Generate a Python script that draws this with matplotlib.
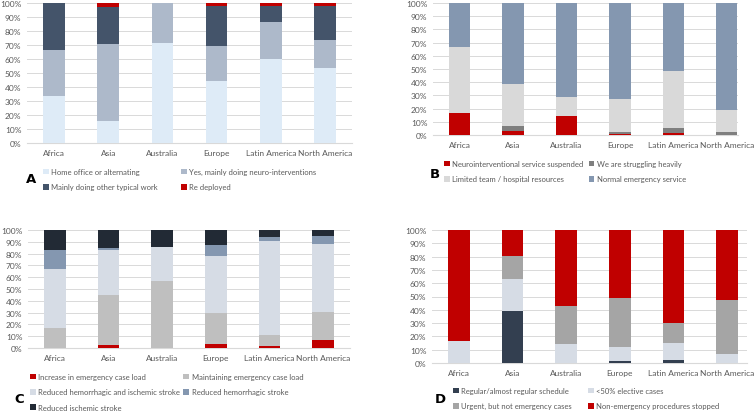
import matplotlib
matplotlib.use('Agg')
import matplotlib.pyplot as plt
from matplotlib.patches import Patch
from matplotlib.ticker import PercentFormatter
import numpy as np

plt.rcParams['font.family'] = ['Lato', 'DejaVu Sans']

regions = ['Africa', 'Asia', 'Australia', 'Europe', 'Latin America', 'North America']

# Panel A - work situation of neurointerventionalists (%)
a_labels = ['Home office or alternating', 'Yes, mainly doing neuro-interventions',
            'Mainly doing other typical work', 'Re deployed']
a_home = [33.3, 15.6, 71.4, 44.4, 60.0, 53.8]
a_neuro = [33.3, 55.0, 28.6, 24.6, 26.7, 20.0]
a_other = [33.4, 26.7, 0.0, 28.6, 11.3, 24.0]
a_redeployed = [0.0, 2.7, 0.0, 2.4, 2.0, 2.2]
a_colors = ['#DEEBF7', '#ADB9CA', '#44546A', '#C00000']

# Panel B - emergency service (%)
b_labels = ['Neurointerventional service suspended', 'We are struggling heavily',
            'Limited team / hospital resources', 'Normal emergency service']
b_suspended = [16.7, 3.3, 14.3, 0.8, 1.7, 0.0]
b_struggling = [0.0, 3.5, 0.0, 1.2, 3.8, 2.0]
b_limited = [50.0, 31.6, 14.3, 25.4, 43.2, 17.0]
b_normal = [33.3, 61.6, 71.4, 72.6, 51.3, 81.0]
b_colors = ['#C00000', '#7F7F7F', '#D9D9D9', '#8497B0']

# Panel C - emergency case load (%)
c_labels = ['Increase in emergency case load', 'Maintaining emergency case load',
            'Reduced hemorrhagic and ischemic stroke', 'Reduced hemorrhagic stroke',
            'Reduced ischemic stroke']
c_increase = [0.0, 2.3, 0.0, 3.0, 2.0, 6.8]
c_maintain = [16.7, 42.7, 57.1, 26.7, 9.0, 23.5]
c_both = [50.0, 37.7, 28.6, 48.2, 79.4, 58.1]
c_hem = [16.6, 2.3, 0.0, 9.1, 3.6, 6.6]
c_isch = [16.7, 15.0, 14.3, 13.0, 6.0, 5.0]
c_colors = ['#C00000', '#BFBFBF', '#D6DCE5', '#8497B0', '#222A35']

# Panel D - elective procedures (%)
d_labels = ['Regular/almost regular schedule', '<50% elective cases',
            'Urgent, but not emergency cases', 'Non-emergency procedures stopped']
d_regular = [0.0, 38.9, 0.0, 1.5, 2.0, 0.0]
d_less50 = [16.7, 24.4, 14.3, 10.5, 13.0, 7.0]
d_urgent = [0.0, 17.1, 28.6, 37.0, 15.0, 40.0]
d_stopped = [83.3, 19.6, 57.1, 51.0, 70.0, 53.0]
d_colors = ['#333F50', '#D6DCE5', '#A5A5A5', '#C00000']

W, H = 754, 414
fig = plt.figure(figsize=(W / 100, H / 100), dpi=100)


def px_axes(x0, y0, x1, y1):
    return fig.add_axes([x0 / W, 1 - y1 / H, (x1 - x0) / W, (y1 - y0) / H])


def stacked(ax, series, colors, labels, xmax=5.5):
    x = np.arange(len(regions))
    bottom = np.zeros(len(regions))
    for vals, col, lab in zip(series, colors, labels):
        ax.bar(x, vals, 0.4, bottom=bottom, color=col, label=lab, zorder=3)
        bottom += np.array(vals)
    ax.set_xlim(-0.5, xmax)
    ax.set_ylim(0, 100)
    ax.set_yticks(np.arange(0, 101, 10))
    ax.yaxis.set_major_formatter(PercentFormatter(decimals=0))
    ax.set_xticks(x)
    ax.set_xticklabels(regions)
    ax.grid(axis='y', color='#D9D9D9', linewidth=0.7, zorder=0)
    for s in ['top', 'right', 'left']:
        ax.spines[s].set_visible(False)
    ax.spines['bottom'].set_color('#D9D9D9')
    ax.tick_params(length=0, labelsize=6, colors='#595959', pad=4)


def legend(ax, order, labels, colors, x, y, spacing):
    handles = [Patch(facecolor=colors[i], label=labels[i]) for i in order]
    ax.legend(handles=handles, ncol=2, loc='upper left', frameon=False,
              bbox_to_anchor=(x / W, 1 - y / H), bbox_transform=fig.transFigure,
              fontsize=5.5, labelcolor='#595959', handlelength=0.75, handleheight=0.75,
              handletextpad=0.35, columnspacing=spacing, labelspacing=1.1,
              borderpad=0, borderaxespad=0)


def letter(x, y, s):
    fig.text(x / W, 1 - y / H, s, fontsize=9.5, fontweight='heavy',
             family=['DejaVu Sans'], va='center', ha='left')


axA = px_axes(27, 4, 352, 144)
stacked(axA, [a_home, a_neuro, a_other, a_redeployed], a_colors, a_labels)
legend(axA, [0, 2, 1, 3], a_labels, a_colors, 43, 169, 3.0)
letter(26, 180, 'A')

axB = px_axes(433, 4, 738, 136)
stacked(axB, [b_suspended, b_struggling, b_limited, b_normal], b_colors, b_labels, 5.21)
legend(axB, [0, 2, 1, 3], b_labels, b_colors, 444, 161, 0.65)
letter(430, 175, 'B')

axC = px_axes(28, 231, 350, 349)
stacked(axC, [c_increase, c_maintain, c_both, c_hem, c_isch], c_colors, c_labels)
legend(axC, [0, 2, 4, 1, 3], c_labels, c_colors, 30, 374, 0.4)
letter(14, 400, 'C')

axD = px_axes(432, 231, 747, 364)
stacked(axD, [d_regular, d_less50, d_urgent, d_stopped], d_colors, d_labels, 5.37)
legend(axD, [0, 2, 1, 3], d_labels, d_colors, 453, 388, 2.1)
letter(435, 400, 'D')

fig.savefig('out.png', dpi=100)
